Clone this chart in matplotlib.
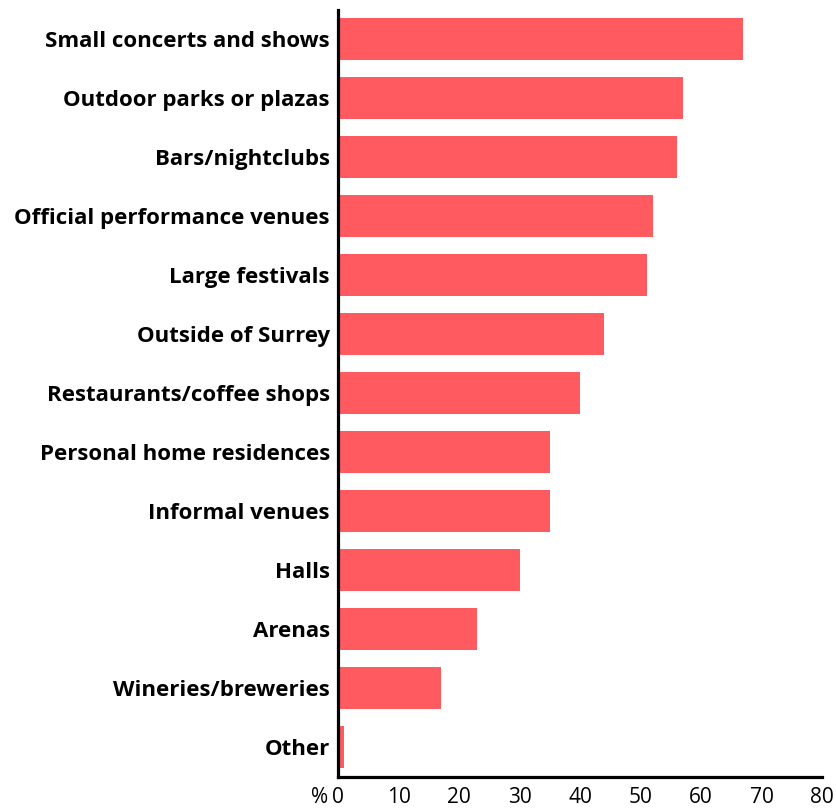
import matplotlib.pyplot as plt

# survey answers, percent of respondents
categories = [
    "Small concerts and shows",
    "Outdoor parks or plazas",
    "Bars/nightclubs",
    "Official performance venues",
    "Large festivals",
    "Outside of Surrey",
    "Restaurants/coffee shops",
    "Personal home residences",
    "Informal venues",
    "Halls",
    "Arenas",
    "Wineries/breweries",
    "Other",
]
values = [67, 57, 56, 52, 51, 44, 40, 35, 35, 30, 23, 17, 1]
x_ticks = [0, 10, 20, 30, 40, 50, 60, 70, 80]

BAR_COLOR = "#FF5A5F"
FONT = "Open Sans"

fig = plt.figure(figsize=(8.37, 8.11), dpi=100)
ax = fig.add_axes([0.404, 0.042, 0.578, 0.946])

pos = range(len(categories))
ax.barh(pos, values, height=0.71, color=BAR_COLOR, zorder=2)

ax.set_ylim(len(categories) - 0.5, -0.5)
ax.set_xlim(0, 80)
ax.set_yticks(list(pos))
ax.set_yticklabels(categories, fontfamily=FONT, fontweight="bold", fontsize=16)
ax.set_xticks(x_ticks)
ax.set_xticklabels([str(t) for t in x_ticks], fontfamily=FONT, fontsize=15)
ax.tick_params(axis="both", length=0)
ax.tick_params(axis="y", pad=6)
ax.tick_params(axis="x", pad=7)

for side in ["top", "right"]:
    ax.spines[side].set_visible(False)
for side in ["left", "bottom"]:
    ax.spines[side].set_linewidth(2.3)
    ax.spines[side].set_color("black")

# unit label sitting left of the 0 tick
ax.annotate("%", xy=(0, 0), xycoords="axes fraction", xytext=(-7, -7.5),
            textcoords="offset points", ha="right", va="top",
            fontfamily=FONT, fontsize=15)

fig.savefig("out.png", dpi=100)
